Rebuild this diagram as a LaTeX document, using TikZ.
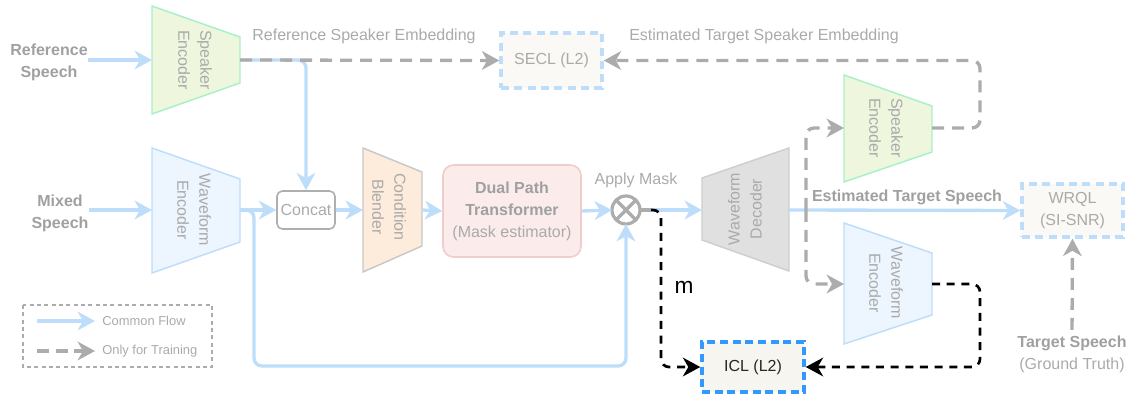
\documentclass[tikz,border=0pt]{standalone}
\usepackage{fontspec}
\setmainfont{Liberation Sans}
\usetikzlibrary{arrows.meta}
\definecolor{flowc}{RGB}{189,221,251}
\definecolor{glinec}{RGB}{172,172,172}
\definecolor{gtext}{RGB}{170,170,170}
\definecolor{gbold}{RGB}{160,160,160}
\definecolor{spkfill}{RGB}{238,246,222}
\definecolor{spkdraw}{RGB}{168,240,200}
\definecolor{wavefill}{RGB}{237,245,254}
\definecolor{wavedraw}{RGB}{189,221,251}
\definecolor{cbfill}{RGB}{253,236,219}
\definecolor{cbdraw}{RGB}{200,200,200}
\definecolor{dptfill}{RGB}{251,236,235}
\definecolor{dptdraw}{RGB}{241,204,204}
\definecolor{decfill}{RGB}{224,224,224}
\definecolor{decdraw}{RGB}{206,206,206}
\definecolor{lossfill}{RGB}{250,249,246}
\definecolor{iclblue}{RGB}{51,153,255}
\definecolor{iclfill}{RGB}{247,245,239}
\definecolor{concatdraw}{RGB}{175,175,175}
\begin{document}
\begin{tikzpicture}[x=0.75pt,y=-0.75pt,
  headA/.style={-{Stealth[length=13pt,width=14pt,inset=4pt]}},
  flowline/.style={draw=flowc,line width=2.5pt,rounded corners=6pt,headA},
  trainline/.style={draw=glinec,line width=2.5pt,dash pattern=on 9pt off 6pt,rounded corners=6pt,headA},
  iclline/.style={draw=black,line width=2pt,dash pattern=on 6pt off 5pt,rounded corners=6pt,headA},
  txt/.style={text=gtext,font=\fontsize{12}{16.5}\selectfont,inner sep=0pt},
  btxt/.style={text=gbold,font=\fontsize{12}{16.5}\selectfont\bfseries,inner sep=0pt,align=center},
  rtxt/.style={txt,align=center},
  lgtxt/.style={text=gtext,font=\fontsize{9.7}{12}\selectfont,inner sep=0pt,anchor=west},
  spkshape/.style={fill=spkfill,draw=spkdraw,line width=1.1pt},
  waveshape/.style={fill=wavefill,draw=wavedraw,line width=1.1pt},
  cbshape/.style={fill=cbfill,draw=cbdraw,line width=1.1pt},
  decshape/.style={fill=decfill,draw=decdraw,line width=1.1pt},
  lossbox/.style={draw=flowc,fill=lossfill,line width=2.6pt,dash pattern=on 6pt off 4pt,
    text=gtext,font=\fontsize{12}{16.5}\selectfont,inner sep=0pt,align=center},
]
\useasboundingbox (0,0) rectangle (1128,395);

% ---------- shapes ----------
\path[spkshape] (152,6) -- (240,37) -- (240,83) -- (152,114) -- cycle;
\path[waveshape] (152,148) -- (240,179) -- (240,242) -- (152,273) -- cycle;
\path[cbshape] (363,148) -- (422,172) -- (422,246) -- (363,272) -- cycle;
\path[decshape] (702,178) -- (789,148) -- (789,271) -- (702,240) -- cycle;
\path[spkshape] (844,75) -- (932,106) -- (932,152) -- (844,182) -- cycle;
\path[waveshape] (844,223) -- (932,253) -- (932,315) -- (844,344) -- cycle;

\node[rtxt,rotate=-90] (spkA) at (195,60) {Speaker\\Encoder};
\node[rtxt,rotate=-90] (wencA) at (194,210) {Waveform\\Encoder};
\node[rtxt,rotate=-90] (cb) at (389,207) {Condition\\Blender};
\node[rtxt,rotate=90] (dec) at (745,209) {Waveform\\Decoder};
\node[rtxt,rotate=-90] (spkB) at (886,128) {Speaker\\Encoder};
\node[rtxt,rotate=-90] (wencB) at (886,283) {Waveform\\Encoder};

\coordinate (spkA-in) at (152,60);
\coordinate (spkA-out) at (240,60);
\coordinate (wencA-in) at (152,210);
\coordinate (wencA-out) at (240,210);
\coordinate (cb-in) at (363,210);
\coordinate (cb-out) at (422,210);
\coordinate (dec-in) at (702,210);
\coordinate (dec-out) at (789,210);
\coordinate (spkB-in) at (844,128);
\coordinate (spkB-out) at (932,128);
\coordinate (wencB-in) at (844,284);
\coordinate (wencB-out) at (932,284);
\coordinate (split) at (651,210);
\coordinate (tap) at (806,210);

\node[draw=concatdraw,fill=white,line width=1.2pt,rounded corners=4pt,minimum width=43.5pt,
  minimum height=28.5pt,inner sep=0pt,text=gtext,font=\fontsize{12}{16.5}\selectfont] (concat) at (306,210) {Concat};
\node[draw=dptdraw,fill=dptfill,line width=1.2pt,rounded corners=8pt,minimum width=103.5pt,
  minimum height=69pt,inner sep=0pt,align=center,text=gtext,font=\fontsize{12}{16.5}\selectfont] (dpt) at (512,211)
  {\textcolor{gbold}{\bfseries Dual Path}\\\textcolor{gbold}{\bfseries Transformer}\\(Mask estimator)};
\node[circle,draw=glinec,line width=2.4pt,minimum size=21pt,inner sep=0pt,outer sep=0pt] (mask) at (626,210) {};
\draw[glinec,line width=2.4pt] (mask.north west) -- (mask.south east) (mask.north east) -- (mask.south west);
\node[txt] (applymask) at (636,180) {Apply Mask};

\node[lossbox,minimum width=75.75pt,minimum height=41.25pt] (secl) at (551.5,60.5) {SECL (L2)};
\node[lossbox,minimum width=75.75pt,minimum height=39.75pt] (wrql) at (1072.5,210.5) {WRQL\\(SI-SNR)};
\node[draw=iclblue,fill=iclfill,line width=2.6pt,dash pattern=on 6pt off 3.5pt,minimum width=76.5pt,
  minimum height=37.5pt,inner sep=0pt,text=black!85,font=\fontsize{12}{16.5}\selectfont] (icl) at (753,367) {ICL (L2)};

% ---------- labels ----------
\node[btxt] (refspeech) at (49,62) {Reference\\Speech};
\node[btxt] (mixed) at (60,213) {Mixed\\Speech};
\node[txt] (refemb) at (364,36) {Reference Speaker Embedding};
\node[txt] (estemb) at (764,36) {Estimated Target Speaker Embedding};
\node[btxt] (estspeech) at (907,197) {Estimated Target Speech};
\node[rtxt] (target) at (1072,354) {\textcolor{gbold}{\bfseries Target Speech}\\(Ground Truth)};
\node[inner sep=0pt,font=\fontsize{17}{20}\selectfont] (mlabel) at (684,287) {m};

% ---------- connectors ----------
\draw[flowline] (refspeech.east |- spkA-in) -- (spkA-in);
\draw[flowline] (spkA-out) -| (concat.north);
\draw[trainline] (spkA-out) -- (secl.west);
\draw[flowline] (mixed.east |- wencA-in) -- (wencA-in);
\draw[flowline] (wencA-out) -- (concat.west);
\draw[flowline] (wencA-out) -- ++(14,0) -- ++(0,156) -| (mask.south);
\draw[flowline] (concat.east) -- (cb-in);
\draw[flowline] (cb-out) -- (dpt.west);
\draw[flowline] (dpt.east) -- (mask.west);
\draw[glinec,line width=2.4pt] (mask.east) -- (split);
\draw[flowline] (split) -- (dec-in);
\draw[iclline] (split) -- ++(10,0) |- (icl.west);
\draw[flowline] (dec-out) -- (wrql.west);
\draw[trainline] (tap) |- (spkB-in);
\draw[trainline] (tap) |- (wencB-in);
\draw[trainline] (spkB-out) -- ++(48,0) |- (secl.east);
\draw[iclline] (wencB-out) -- ++(48,0) |- (icl.east);
\draw[trainline,shorten <=4pt] (target.north) -- (wrql.south);

% ---------- legend ----------
\draw[glinec,line width=1pt,dash pattern=on 3pt off 2.5pt] (23,305) rectangle (212,367);
\coordinate (lg1a) at (37,321);
\coordinate (lg1b) at (95,321);
\coordinate (lg2a) at (37,351);
\coordinate (lg2b) at (95,351);
\draw[flowline] (lg1a) -- (lg1b);
\draw[trainline,dash pattern=on 9pt off 5pt] (lg2a) -- (lg2b);
\node[lgtxt] (lg1t) at (102,321) {Common Flow};
\node[lgtxt] (lg2t) at (102,351) {Only for Training};
\end{tikzpicture}
\end{document}
